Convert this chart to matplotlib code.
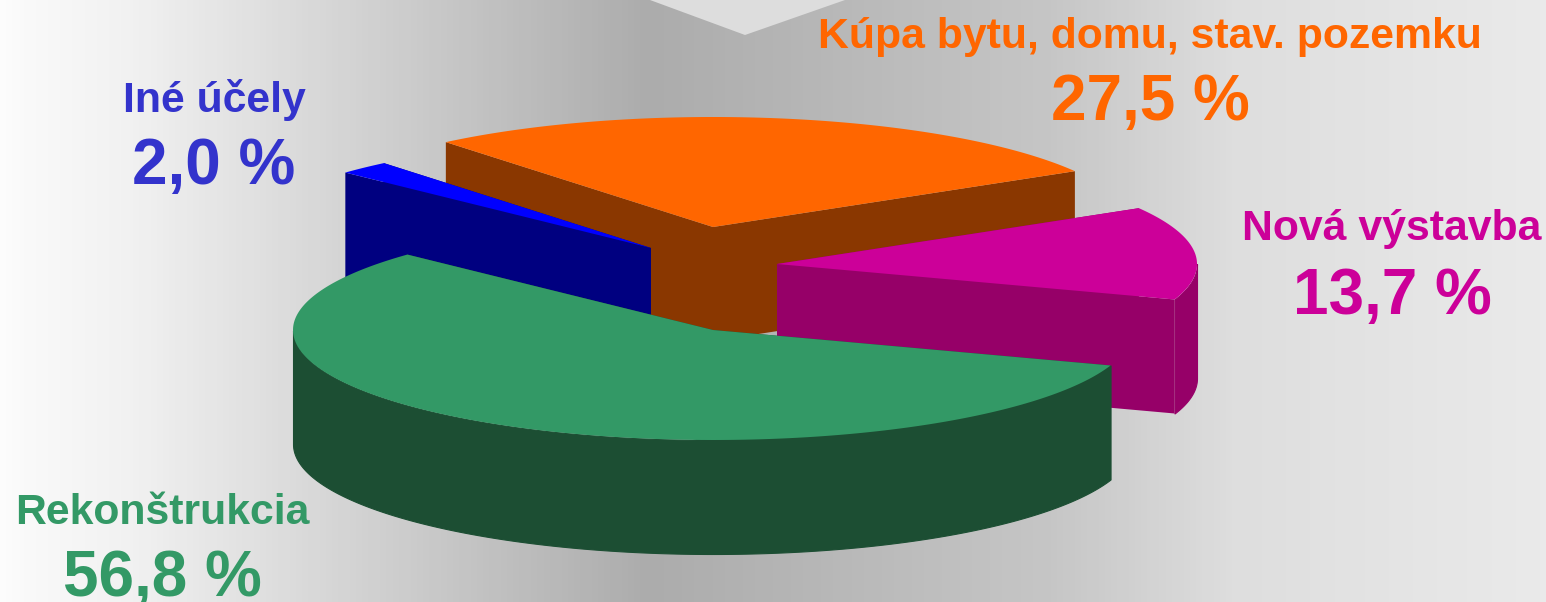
import numpy as np
import matplotlib
matplotlib.use("Agg")
import matplotlib.pyplot as plt
from matplotlib.colors import LinearSegmentedColormap

# data
names = ["Kúpa bytu, domu, stav. pozemku", "Nová výstavba", "Rekonštrukcia", "Iné účely"]
shares = [27.5, 13.7, 56.8, 2.0]
value_labels = ["27,5 %", "13,7 %", "56,8 %", "2,0 %"]

top_colors = ["#FF6600", "#CC0099", "#339966", "#0000FF"]
side_colors = ["#8A3700", "#960068", "#1C4E33", "#000080"]
text_colors = ["#FF6600", "#CC0099", "#339966", "#3333CC"]

# apex of each slice in pixels, the slices are pulled apart
apex = [(713, 227), (777, 264), (713, 330), (651, 248)]
label_pos = [(1150, 48), (1392, 240), (162, 524), (214, 112)]
value_pos = [(1150, 120), (1392, 314), (162, 596), (214, 184)]

rx, ry = 420, 110
depth = 114
start_angle = 129.5  # left edge of the orange slice

W, H = 1546, 602
fig = plt.figure(figsize=(W / 100, H / 100), dpi=100)
ax = fig.add_axes([0, 0, 1, 1])
ax.set_xlim(0, W)
ax.set_ylim(H, 0)
ax.axis("off")

# background
stops = [(0.0, "#FCFCFC"), (0.09, "#F0F0F0"), (0.18, "#DDDDDD"), (0.42, "#ACACAC"),
         (0.68, "#C6C6C6"), (0.80, "#DEDEDE"), (1.0, "#EAEAEA")]
cmap = LinearSegmentedColormap.from_list("bg", stops)
ax.imshow(np.linspace(0, 1, 512).reshape(1, -1), cmap=cmap, extent=[0, W, H, 0], aspect="auto", zorder=0)
ax.fill([650, 745, 845], [0, 35, 0], color="#DDDDDD", lw=0, zorder=1)

# angle range of each slice, clockwise from the start
ends = start_angle - 3.6 * np.cumsum(shares)
starts = np.r_[start_angle, ends[:-1]]


def arc(cx, cy, a0, a1):
    t = np.radians(np.linspace(a0, a1, 240))
    return cx + rx * np.cos(t), cy - ry * np.sin(t)


# back to front
for z, i in enumerate([0, 3, 1, 2]):
    cx, cy = apex[i]
    x, y = arc(cx, cy, starts[i], ends[i])
    z = z + 2
    # rim, only the front part of the arc can be seen
    front = y >= cy
    if front.any():
        ax.fill_between(x[front], y[front], y[front] + depth, facecolor=side_colors[i],
                        edgecolor=side_colors[i], lw=0.8, zorder=z)
    # the two cut faces
    for px, py in [(x[0], y[0]), (x[-1], y[-1])]:
        ax.fill([cx, px, px, cx], [cy, py, py + depth, cy + depth], color=side_colors[i], lw=0, zorder=z)
    ax.fill(np.r_[cx, x], np.r_[cy, y], color=top_colors[i], lw=0, zorder=z)

# labels
for i in range(4):
    ax.text(*label_pos[i], names[i], color=text_colors[i], family="Liberation Sans", weight="bold",
            fontsize=30.8, ha="center", va="baseline", zorder=10)
    ax.text(*value_pos[i], value_labels[i], color=text_colors[i], family="Liberation Sans", weight="bold",
            fontsize=46, ha="center", va="baseline", zorder=10)

fig.savefig("out.png", dpi=100)
